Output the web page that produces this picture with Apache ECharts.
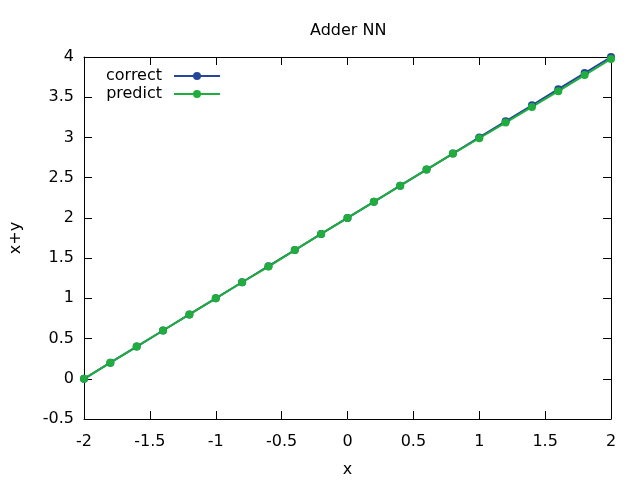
<!DOCTYPE html>
<html><head><meta charset="utf-8">
<script src="https://cdn.jsdelivr.net/npm/echarts@6/dist/echarts.min.js"></script>
<style>html,body{margin:0;padding:0;background:#fff}#c{width:640px;height:480px}</style>
</head><body><div id="c"></div>
<script>
const xs = [-2,-1.8,-1.6,-1.4,-1.2,-1,-0.8,-0.6,-0.4,-0.2,0,0.2,0.4,0.6,0.8,1,1.2,1.4,1.6,1.8,2];
const correct = [0,0.2,0.4,0.6,0.8,1,1.2,1.4,1.6,1.8,2,2.2,2.4,2.6,2.8,3,3.2,3.4,3.6,3.8,4];
const predict = [0,0.2,0.4,0.6,0.8,1,1.2,1.395,1.6,1.8,2,2.2,2.4,2.6,2.8,2.99,3.185,3.38,3.575,3.775,3.975];
const FONT = 'DejaVu Sans';
const FS = 16;
const chart = echarts.init(document.getElementById('c'), null, {renderer:'canvas'});
const axisCommon = {
  axisLine:{show:true,onZero:false,lineStyle:{color:'#000',width:1}},
  axisTick:{show:true,inside:true,length:8,lineStyle:{color:'#000'}},
  splitLine:{show:false}
};
chart.setOption({
  animation:false,
  title:{text:'Adder NN',left:305,top:18,textStyle:{fontFamily:FONT,fontSize:FS,fontWeight:'normal',color:'#000'}},
  legend:{
    orient:'vertical',left:101,top:63,align:'right',itemWidth:46,itemHeight:10,itemGap:2,
    textStyle:{fontFamily:FONT,fontSize:FS,color:'#000',padding:[0,7,0,0]},
    data:['correct','predict']
  },
  grid:{left:84,right:29,top:57,bottom:61,containLabel:false,outerBoundsMode:'none'},
  xAxis:[
    Object.assign({type:'value',min:-2,max:2,interval:0.5,position:'bottom',
      name:'x',nameLocation:'middle',nameGap:43,nameTextStyle:{fontFamily:FONT,fontSize:FS,color:'#000'},
      axisLabel:{fontFamily:FONT,fontSize:FS,color:'#000',margin:15}},axisCommon),
    Object.assign({type:'value',min:-2,max:2,interval:0.5,position:'top',axisLabel:{show:false}},axisCommon)
  ],
  yAxis:[
    Object.assign({type:'value',min:-0.5,max:4,interval:0.5,position:'left',
      name:'x+y',nameLocation:'middle',nameGap:60,nameRotate:90,nameTextStyle:{fontFamily:FONT,fontSize:FS,color:'#000'},
      axisLabel:{fontFamily:FONT,fontSize:FS,color:'#000',margin:10}},axisCommon),
    Object.assign({type:'value',min:-0.5,max:4,interval:0.5,position:'right',axisLabel:{show:false}},axisCommon)
  ],
  series:[
    {name:'correct',type:'line',xAxisIndex:0,yAxisIndex:0,data:xs.map((x,i)=>[x,correct[i]]),
     symbol:'circle',symbolSize:8,itemStyle:{color:'#24479b'},lineStyle:{color:'#24479b',width:2}},
    {name:'predict',type:'line',xAxisIndex:0,yAxisIndex:0,data:xs.map((x,i)=>[x,predict[i]]),
     symbol:'circle',symbolSize:8,itemStyle:{color:'#1fae3c'},lineStyle:{color:'#1fae3c',width:2}}
  ]
});
</script></body></html>
